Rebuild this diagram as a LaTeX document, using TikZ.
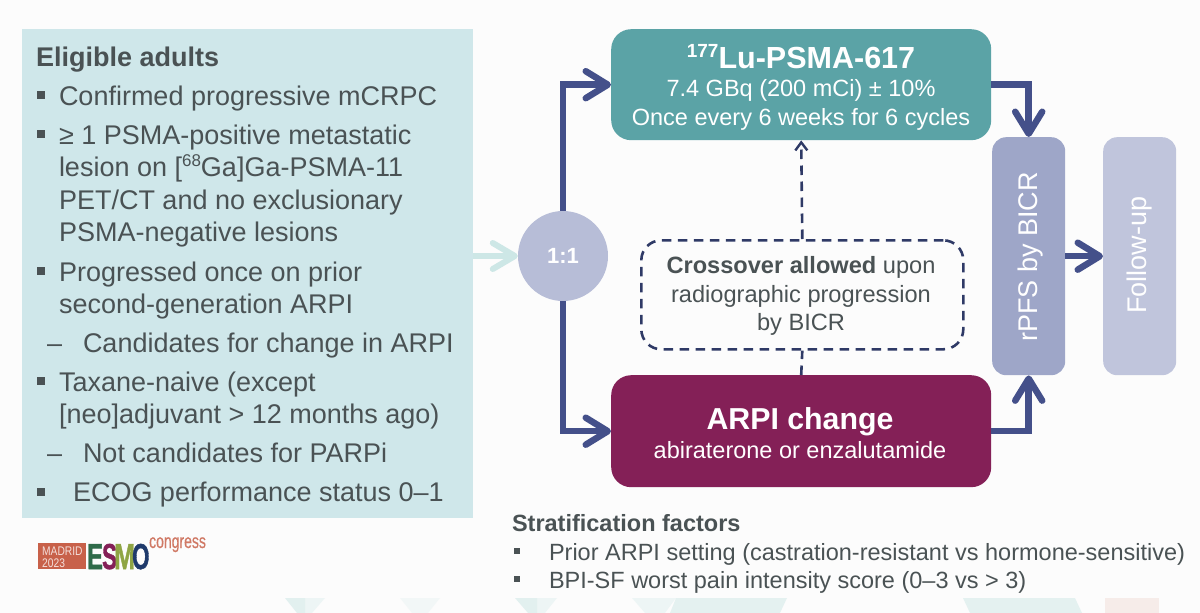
\documentclass[tikz,border=0pt]{standalone}
\usepackage{fontspec}
\setmainfont{Liberation Sans}
\newfontfamily\logofont[FakeBold=1.5]{Liberation Sans}
\newfontfamily\congfont[FakeBold=0.5]{Liberation Sans}
\usetikzlibrary{arrows.meta}
\definecolor{panelc}{HTML}{CFE7EA}
\definecolor{inkc}{HTML}{4A5254}
\definecolor{navyc}{HTML}{44508A}
\definecolor{dashc}{HTML}{2F3A66}
\definecolor{tealc}{HTML}{5BA3A6}
\definecolor{plumc}{HTML}{842057}
\definecolor{rpfsc}{HTML}{9EA6C8}
\definecolor{fupc}{HTML}{C0C5DC}
\definecolor{circc}{HTML}{B7BDD7}
\definecolor{arrlc}{HTML}{CDE7E6}
\definecolor{madc}{HTML}{C8614A}
\definecolor{esmoe}{HTML}{2F6B4A}
\definecolor{esmom}{HTML}{8FA544}
\definecolor{esmoo}{HTML}{1F3A6B}
\tikzset{
  txt/.style={anchor=base west,inner sep=0pt,outer sep=0pt,text=inkc,font=\fontsize{27}{27}\selectfont},
  hd/.style={txt,font=\fontsize{27}{27}\selectfont\bfseries},
  strat/.style={txt,font=\fontsize{23.5}{23.5}\selectfont},
  cr/.style={txt,anchor=base,font=\fontsize{23.6}{23.6}\selectfont},
  sq/.style={fill=inkc,draw=none,minimum size=8pt,inner sep=0pt,anchor=center},
  sqs/.style={fill=inkc,draw=none,minimum size=6pt,inner sep=0pt,anchor=center},
  box/.style={draw=none,rounded corners=20pt,inner sep=0pt,anchor=north west},
  flow/.style={draw=navyc,line width=6.5pt,-{Straight Barb[length=22pt,width=27pt,line width=6.5pt,round]}},
  dashflow/.style={draw=dashc,line width=2.6pt,dash pattern=on 9.5pt off 6.5pt},
  wt/.style={text=white,inner sep=0pt,anchor=base,align=center},
  vt/.style={text=white,inner sep=0pt,rotate=90,font=\fontsize{27}{27}\selectfont},
  lg/.style={anchor=base west,inner sep=0pt,font=\fontsize{36}{36}\selectfont\logofont\bfseries},
}
\begin{document}
\begin{tikzpicture}[x=1pt,y=-1pt]
\useasboundingbox (0,0) rectangle (1200,613);
\fill[white!99!black] (0,0) rectangle (1200,613);
% faint bottom background
\fill[arrlc,opacity=.55] (285,598) -- (305,598) -- (305,613) -- (297,613) -- cycle;
\fill[arrlc,opacity=.3] (305,598) -- (325,598) -- (312,613) -- (305,613) -- cycle;
\fill[arrlc,opacity=.2] (400,598) -- (440,598) -- (428,613) -- (412,613) -- cycle;
\fill[arrlc,opacity=.55] (515,598) -- (537,598) -- (537,613) -- (528,613) -- cycle;
\fill[arrlc,opacity=.3] (537,598) -- (557,598) -- (545,613) -- (537,613) -- cycle;
\fill[arrlc,opacity=.3] (632,598) -- (676,598) -- (665,613) -- (645,613) -- cycle;
\fill[arrlc,opacity=.5] (676,598) -- (787,598) -- (780,613) -- (670,613) -- cycle;
\fill[arrlc,opacity=.5] (963,598) -- (1075,598) -- (1082,613) -- (970,613) -- cycle;
\fill[madc,opacity=.1] (1105,598) -- (1159,598) -- (1159,613) -- (1105,613) -- cycle;
% panel
\node[box,rounded corners=0pt,fill=panelc,minimum width=451pt,minimum height=489pt] (panel) at (22,29) {};
\node[hd] (t0) at (36,66) {Eligible adults};
\node[txt] (t1) at (59,105) {Confirmed progressive mCRPC};
\node[txt] (t2) at (59,144) {≥ 1 PSMA-positive metastatic};
\node[txt] (t3) at (59,176.5) {lesion on [\raisebox{.36em}{\fontsize{17}{17}\selectfont 68}Ga]Ga-PSMA-11};
\node[txt] (t4) at (59,209) {PET/CT and no exclusionary};
\node[txt] (t5) at (59,241) {PSMA-negative lesions};
\node[txt] (t6) at (59,281) {Progressed once on prior};
\node[txt] (t7) at (59,313) {second-generation ARPI};
\node[txt] (t8) at (47,352.5) {–};
\node[txt] (t9) at (83,352.5) {Candidates for change in ARPI};
\node[txt] (t10) at (59,391) {Taxane-naive (except};
\node[txt] (t11) at (59,423.5) {[neo]adjuvant > 12 months ago)};
\node[txt] (t12) at (47,462.5) {–};
\node[txt] (t13) at (83,462.5) {Not candidates for PARPi};
\node[txt] (t14) at (73,501.5) {ECOG performance status 0–1};
\node[sq] (s1) at (41,95) {};
\node[sq] (s2) at (41,134) {};
\node[sq] (s3) at (41,271) {};
\node[sq] (s4) at (41,381) {};
\node[sq] (s5) at (41,492) {};
% boxes
\node[box,fill=tealc,minimum width=380pt,minimum height=111pt] (teal) at (611,29) {};
\node[wt,font=\fontsize{30.5}{30.5}\selectfont\bfseries] (tealA) at (801,68) {\raisebox{.36em}{\fontsize{19}{19}\selectfont 177}Lu-PSMA-617};
\node[wt,font=\fontsize{23.5}{23.5}\selectfont] (tealB) at (801,96) {7.4 GBq (200 mCi) ± 10\%};
\node[wt,font=\fontsize{23.5}{23.5}\selectfont] (tealC) at (801,125) {Once every 6 weeks for 6 cycles};
\node[box,fill=plumc,minimum width=380pt,minimum height=112pt] (arpi) at (611,375) {};
\node[wt,font=\fontsize{30.3}{30.3}\selectfont\bfseries] (arpiA) at (800,429) {ARPI change};
\node[wt,font=\fontsize{23.5}{23.5}\selectfont] (arpiB) at (800,458) {abiraterone or enzalutamide};
\node[box,rounded corners=14pt,fill=rpfsc,minimum width=73pt,minimum height=238pt] (rpfs) at (992,137) {};
\node[box,rounded corners=14pt,fill=fupc,minimum width=73pt,minimum height=238pt] (fup) at (1103,137) {};
\node[vt] (rpfsT) at (1031,257) {rPFS by BICR};
\node[vt] (fupT) at (1140,255) {Follow-up};
\node[circle,fill=circc,minimum size=90pt,inner sep=0pt,text=white,font=\fontsize{22}{22}\selectfont\bfseries] (rand) at (563,256) {1:1};
\node[box,draw=dashc,line width=2.6pt,dash pattern=on 9.5pt off 6.5pt,minimum width=322pt,minimum height=109pt] (cross) at (640,239) {};
\node[cr] (c1) at (801,273) {\textbf{Crossover allowed} upon};
\node[cr] (c2) at (801,302) {radiographic progression};
\node[cr] (c3) at (801,330) {by BICR};
% connectors
\draw[draw=arrlc,line width=6pt,-{Straight Barb[length=22pt,width=26pt,line width=6pt,round]}] (panel.east |- rand.west) -- (rand.west);
\draw[flow] (rand.north) |- (teal.west);
\draw[flow] (rand.south) |- (arpi.west);
\draw[flow] (teal.east) -| (rpfs.north);
\draw[flow] (arpi.east) -| (rpfs.south);
\draw[flow] (rpfs.east |- fup.west) -- (fup.west);
\draw[dashflow,-{Straight Barb[length=8pt,width=12pt,line width=2.4pt]}] (cross.north) -- (teal.south);
\draw[dashflow] (arpi.north) -- (cross.south);
% stratification
\node[txt,font=\fontsize{23.5}{23.5}\selectfont\bfseries] (st0) at (512,531) {Stratification factors};
\node[sqs] (sa) at (517,551) {};
\node[strat] (st1) at (549,560) {Prior ARPI setting (castration-resistant vs hormone-sensitive)};
\node[sqs] (sb) at (517,579) {};
\node[strat] (st2) at (549,588) {BPI-SF worst pain intensity score (0–3 vs > 3)};
% logo
\node[box,rounded corners=0pt,fill=madc,minimum width=48pt,minimum height=26pt] (mad) at (38,543) {};
\node[anchor=base west,inner sep=0pt,text=white!80!madc,font=\fontsize{12.5}{12.5}\selectfont,xscale=.82] (m1) at (42,555) {MADRID};
\node[anchor=base west,inner sep=0pt,text=white!80!madc,font=\fontsize{12.5}{12.5}\selectfont,xscale=.82] (m2) at (42,567) {2023};
\node[lg,xscale=.66,text=esmoe] (e1) at (87,569) {E};
\node[lg,xscale=.62,text=plumc] (e2) at (102,569) {S};
\node[lg,xscale=.7,text=esmom] (e3) at (114,569) {M};
\node[lg,xscale=.62,text=esmoo] (e4) at (132,569) {O};
\node[anchor=base west,inner sep=0pt,font=\fontsize{20}{20}\selectfont\congfont,xscale=.7,text=madc!85!white] (cg) at (149,548) {congress};
\end{tikzpicture}
\end{document}
